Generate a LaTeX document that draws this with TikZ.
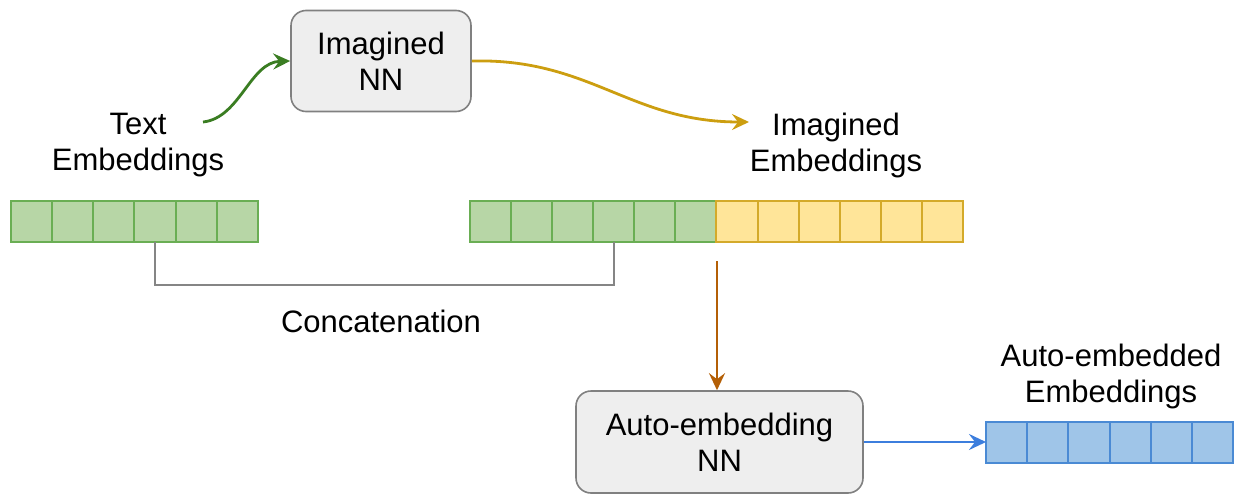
\documentclass[tikz,border=0pt]{standalone}
\usepackage{fontspec}
\setmainfont{Liberation Sans}
\usetikzlibrary{arrows.meta}

\definecolor{boxfill}{HTML}{EEEEEE}
\definecolor{boxline}{HTML}{808080}
\definecolor{greenfill}{HTML}{B7D6A6}
\definecolor{greenline}{HTML}{6AAE54}
\definecolor{yellowfill}{HTML}{FFE599}
\definecolor{yellowline}{HTML}{D4AA2A}
\definecolor{bluefill}{HTML}{9FC5E8}
\definecolor{blueline}{HTML}{4A8AD4}
\definecolor{arrowgreen}{HTML}{3A7D22}
\definecolor{arrowgold}{HTML}{CC9E10}
\definecolor{arrowbrown}{HTML}{B45F06}
\definecolor{arrowblue}{HTML}{3C7EDD}
\definecolor{bracketgray}{HTML}{858585}

\tikzset{
  every node/.style={font=\fontsize{31}{36}\selectfont},
  nnbox/.style={draw=boxline, fill=boxfill, line width=1.6pt, rounded corners=15pt,
    align=center, inner sep=0pt},
  label/.style={align=center, inner sep=0pt},
  cell/.style={draw, line width=2pt, minimum width=41.2pt, minimum height=41pt,
    inner sep=0pt, outer sep=0pt},
  greencell/.style={cell, fill=greenfill, draw=greenline},
  yellowcell/.style={cell, fill=yellowfill, draw=yellowline},
  bluecell/.style={cell, fill=bluefill, draw=blueline},
  flow/.style={line width=2.8pt, -{Stealth[length=17pt, width=16pt, inset=6pt]}},
}

\begin{document}
\begin{tikzpicture}[x=1pt, y=-1pt]
  \useasboundingbox (0,0) rectangle (1234,493);

  % networks
  \node[nnbox, minimum width=180pt, minimum height=101pt] (imag) at (381,61)
    {Imagined\\NN};
  \node[nnbox, minimum width=287pt, minimum height=102pt] (auto) at (719.5,442)
    {Auto-embedding\\NN};

  % labels
  \node[label] (textlbl) at (138,145) {Text\\Embeddings};
  \node[label] (imaglbl) at (836,145) {Imagined\\Embeddings};
  \node[label] (autolbl) at (1111,376) {Auto-embedded\\Embeddings};
  \node[label] (concat) at (381,321) {Concatenation};

  % embedding vectors
  \foreach \i in {1,...,6} {
    \node[greencell] (t\i) at ({11+41.17*(\i-0.5)},221.5) {};
    \node[greencell] (c\i) at ({470+41.08*(\i-0.5)},221.5) {};
    \node[bluecell] (b\i) at ({986+41.17*(\i-0.5)},442) {};
  }
  \foreach \i in {7,...,12} {
    \node[yellowcell] (c\i) at ({470+41.08*(\i-0.5)},221.5) {};
  }

  % concatenation bracket
  \draw[bracketgray, line width=2pt] (t4.center |- t4.south) -- ++(0,42.5)
    -| (c4.center |- c4.south);

  % flows
  \coordinate (gstart) at (203,122);
  \coordinate (yend) at (749,122);
  \coordinate (bstart) at (717,261);

  \draw[flow, arrowgreen] (gstart) .. controls (240,118) and (250,62) .. (imag.west);
  \draw[flow, arrowgold] (imag.east) .. controls (590,58) and (630,122) .. (yend);
  \draw[flow, arrowbrown] (bstart) -- (bstart |- auto.north);
  \draw[flow, arrowblue] (auto.east) -- (b1.west);
\end{tikzpicture}
\end{document}
